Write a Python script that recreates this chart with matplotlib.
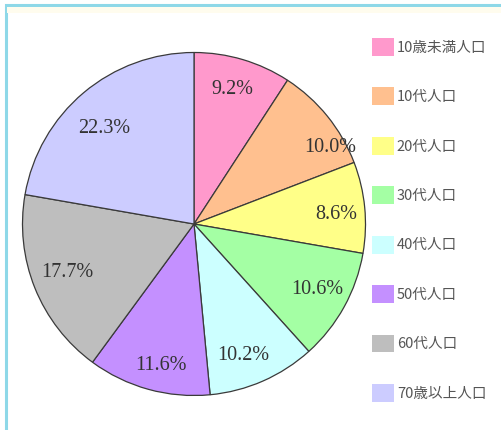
import matplotlib
matplotlib.use("Agg")
import matplotlib.pyplot as plt
from matplotlib.patches import Patch, Rectangle

labels = ["10歳未満人口", "10代人口", "20代人口", "30代人口",
          "40代人口", "50代人口", "60代人口", "70歳以上人口"]
shares = [9.2, 10.0, 8.6, 10.6, 10.2, 11.6, 17.7, 22.3]
colors = ["#FF99CC", "#FFC08F", "#FFFF88", "#A4FFA4",
          "#CCFFFF", "#C490FF", "#BEBEBE", "#CCCCFF"]
# small nudges of the percent labels (pixels, right / down)
label_nudge = [(-2, 0), (27, 12), (2, 4), (0, -3),
               (-7, 3), (4, 6), (4, -4), (1, 12)]

W, H = 501, 430
fig = plt.figure(figsize=(W / 100, H / 100), dpi=100)

# frame around the chart (cut off at right and bottom)
fig.add_artist(Rectangle((5.5 / W, -0.1), 1.2, 1.1 - 5.5 / H,
                         transform=fig.transFigure, fill=False,
                         edgecolor="#8ED8E8", linewidth=2.2))
fig.add_artist(Rectangle((7 / W, 1 - 13 / H), 1.0, 6 / H,
                         transform=fig.transFigure, facecolor="#FFFCEE",
                         edgecolor="none"))

cx, cy, r = 194, 224, 171.5
ax = fig.add_axes([(cx - r) / W, (H - cy - r) / H, 2 * r / W, 2 * r / H])

wedges, texts, autotexts = ax.pie(
    shares, colors=colors, startangle=90, counterclock=False,
    autopct=lambda p: "", pctdistance=0.82,
    wedgeprops=dict(edgecolor="#3a3a3a", linewidth=0.9))

for t, v, (nx, ny) in zip(autotexts, shares, label_nudge):
    t.set_text(f"{v:.1f}%")
    t.set_fontfamily("Liberation Serif")
    t.set_fontsize(14.5)
    t.set_color("#333333")
    x, y = t.get_position()
    t.set_position((x + nx / r, y - ny / r))

ax.set_xlim(-1, 1)
ax.set_ylim(-1, 1)
ax.set_aspect("equal")
ax.axis("off")

handles = [Patch(facecolor=c, edgecolor="none") for c in colors]
fs = 10.5
leg = fig.legend(handles, labels, loc="upper left",
                 bbox_to_anchor=(372 / W, 1 - 38 / H),
                 frameon=False, borderpad=0, borderaxespad=0,
                 handlelength=1.5, handleheight=1.5, handletextpad=0.2,
                 labelspacing=2.17,
                 prop={"family": ["Noto Sans CJK JP", "DejaVu Sans"], "size": fs})
for t in leg.get_texts():
    t.set_color("#555555")

fig.savefig("out.png", dpi=100)
